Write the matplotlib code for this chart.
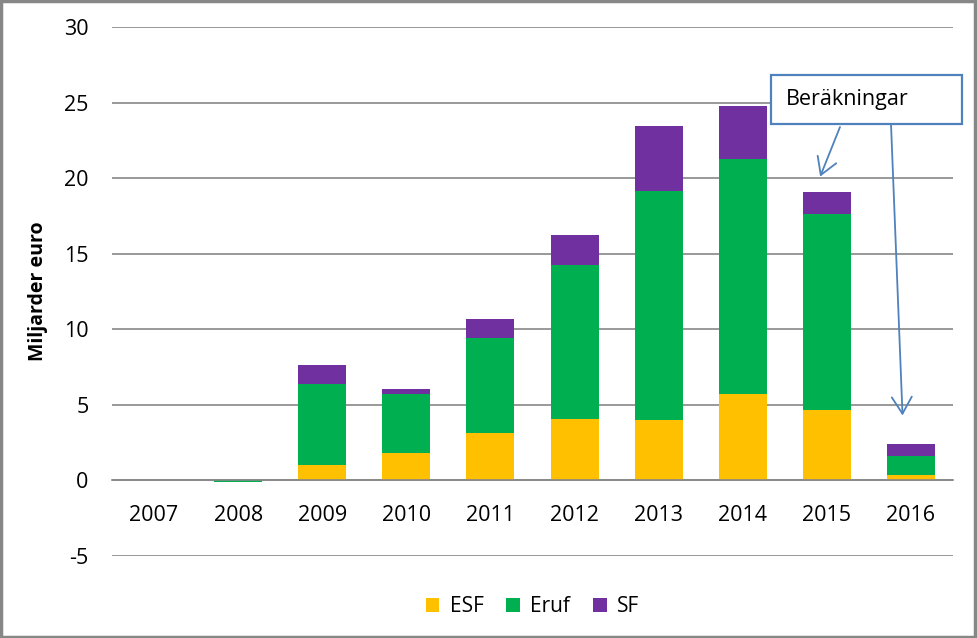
import numpy as np
import matplotlib.pyplot as plt
from matplotlib.patches import Rectangle

# values in miljarder euro
years = ['2007', '2008', '2009', '2010', '2011', '2012', '2013', '2014', '2015', '2016']
esf = [0.0, 0.06, 1.02, 1.83, 3.11, 4.04, 3.97, 5.70, 4.64, 0.33]
eruf = [0.0, -0.08, 5.36, 3.87, 6.31, 10.20, 15.17, 15.56, 13.00, 1.26]
sf = [0.0, 0.0, 1.23, 0.33, 1.28, 1.98, 4.30, 3.51, 1.43, 0.79]

c_esf = '#FFC000'
c_eruf = '#00B050'
c_sf = '#7030A0'
c_blue = '#4F81BD'

plt.rcParams['font.family'] = ['Open Sans', 'DejaVu Sans']
plt.rcParams['axes.unicode_minus'] = False

W, H = 977, 638
fig = plt.figure(figsize=(W / 100, H / 100), dpi=100)
ax = fig.add_axes([112 / W, 1 - 556 / H, 841 / W, 529 / H])

x = np.arange(len(years))
esf_a = np.array(esf)
eruf_a = np.array(eruf)
sf_a = np.array(sf)

# stacking: positives on positives, negatives below zero
eruf_bottom = np.where(eruf_a >= 0, np.maximum(esf_a, 0), np.minimum(esf_a, 0))
sf_bottom = np.maximum(esf_a, 0) + np.maximum(eruf_a, 0)

w = 0.57
ax.bar(x, esf_a, w, color=c_esf, label='ESF', zorder=3)
ax.bar(x, eruf_a, w, bottom=eruf_bottom, color=c_eruf, label='Eruf', zorder=3)
ax.bar(x, sf_a, w, bottom=sf_bottom, color=c_sf, label='SF', zorder=3)

ax.set_xlim(-0.5, len(years) - 0.5)
ax.set_ylim(-5, 30)
ax.set_yticks(range(-5, 31, 5))
ax.set_xticks(x)
ax.set_xticklabels(years)
ax.yaxis.grid(True, color='#878787', linewidth=1.2, zorder=0)
ax.set_axisbelow(True)

for s in ['top', 'right', 'left']:
    ax.spines[s].set_visible(False)
ax.spines['bottom'].set_position(('data', 0))
ax.spines['bottom'].set_color('#878787')
ax.spines['bottom'].set_linewidth(1.2)
ax.spines['bottom'].set_zorder(4)
ax.tick_params(axis='both', length=0, labelsize=15.5, colors='black')
ax.tick_params(axis='x', pad=18)
ax.tick_params(axis='y', pad=17)
ax.set_ylabel('Miljarder euro', fontsize=14, fontweight='bold', labelpad=11)

leg = ax.legend(loc='upper center', bbox_to_anchor=(0.5, -0.04), ncol=3, frameon=False,
                fontsize=15, handlelength=0.65, handleheight=0.65, handletextpad=0.5,
                columnspacing=1.1)


def fp(px, py):
    # image pixel -> figure fraction
    return (px / W, 1 - py / H)


# callout box
x0, y0 = fp(771, 124)
x1, y1 = fp(962, 75)
fig.patches.append(Rectangle((x0, y0), x1 - x0, y1 - y0, transform=fig.transFigure,
                             facecolor='white', edgecolor=c_blue, linewidth=1.6, zorder=5))
fig.text(*fp(786, 100), 'Beräkningar', fontsize=15.5, va='center', ha='left', zorder=6)

arrow = dict(arrowstyle='->,head_length=0.5,head_width=0.3', color=c_blue, linewidth=1.3,
             mutation_scale=24, shrinkA=0, shrinkB=0)
ax.annotate('', xy=(7.92, 20.1), xycoords='data', xytext=fp(840, 127),
            textcoords='figure fraction', arrowprops=arrow, zorder=6)
ax.annotate('', xy=(8.90, 4.3), xycoords='data', xytext=fp(891, 124),
            textcoords='figure fraction', arrowprops=arrow, zorder=6)

# outer frame
fig.patches.append(Rectangle((0.001, 0.002), 0.997, 0.996, transform=fig.transFigure,
                             fill=False, edgecolor='#878787', linewidth=2.5))

fig.savefig('out.png', dpi=100)
